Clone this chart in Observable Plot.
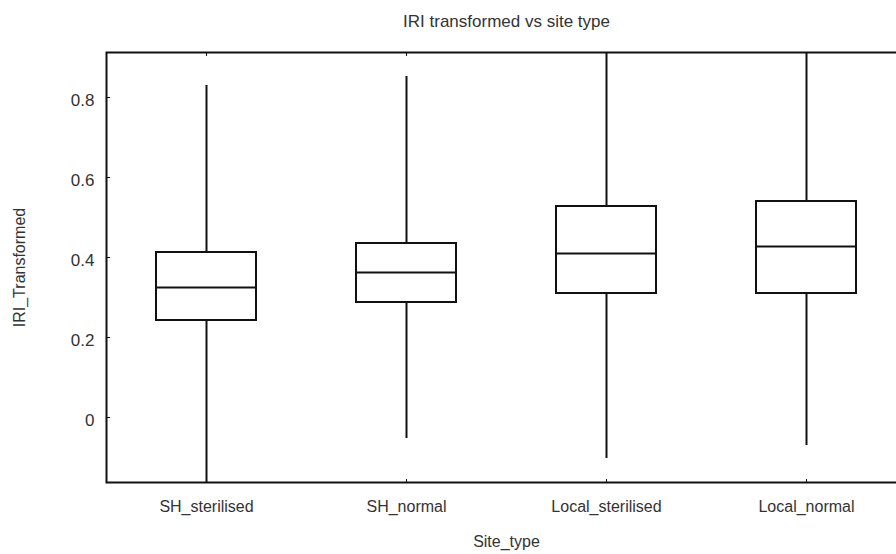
<!DOCTYPE html>
<html>
<head>
<meta charset="utf-8">
<script src="https://cdn.jsdelivr.net/npm/d3@7"></script>
<script src="https://cdn.jsdelivr.net/npm/@observablehq/plot@0.6"></script>
<style>
  html, body { margin: 0; padding: 0; background: #fff; overflow: hidden; }
  #chart { width: 896px; height: 554px; overflow: hidden; }
  #chart svg { max-width: none !important; font-family: "Liberation Sans", Arial, sans-serif; }
</style>
</head>
<body>
<div id="chart"></div>
<script>
const categories = ["SH_sterilised", "SH_normal", "Local_sterilised", "Local_normal"];
const whiskerLow  = [-0.20, -0.0525, -0.1025, -0.07];
const q1          = [0.2425, 0.2875, 0.31, 0.31];
const medians     = [0.325, 0.3625, 0.41, 0.4275];
const q3          = [0.4125, 0.435, 0.5275, 0.54];
const whiskerHigh = [0.83, 0.8525, 1.0, 1.0];
const yTicks = [0, 0.2, 0.4, 0.6, 0.8];
const yTickLabels = ["0", "0.2", "0.4", "0.6", "0.8"];

const rows = categories.map((c, i) => ({
  site: c, lo: whiskerLow[i], q1: q1[i], med: medians[i], q3: q3[i], hi: whiskerHigh[i]
}));

const textColor = "#333";

const chart = Plot.plot({
  width: 920,
  height: 554,
  marginLeft: 106,
  marginRight: 14,
  marginTop: 52,
  marginBottom: 72,
  style: { fontSize: "16px", color: textColor, background: "#fff", maxWidth: "none" },
  x: { domain: categories, paddingInner: 0.5, paddingOuter: 0.25, label: null },
  y: { domain: [-0.1625, 0.9125], label: null },
  marks: [
    Plot.ruleX(rows, { x: "site", y1: "lo", y2: "q1", stroke: "#111", strokeWidth: 2, clip: true }),
    Plot.ruleX(rows, { x: "site", y1: "q3", y2: "hi", stroke: "#111", strokeWidth: 2, clip: true }),
    Plot.barY(rows, { x: "site", y1: "q1", y2: "q3", fill: "white", stroke: "#111", strokeWidth: 2 }),
    Plot.tickY(rows, { x: "site", y: "med", stroke: "#111", strokeWidth: 2 }),
    Plot.axisY({ ticks: yTicks, tickFormat: (d) => yTickLabels[yTicks.indexOf(d)], tickSize: 0, tickPadding: 12, dy: 3, fontSize: 17, label: null }),
    Plot.axisY({ ticks: yTicks, tickSize: -4, text: null, label: null, stroke: "#111" }),
    Plot.axisX({ anchor: "bottom", tickSize: 0, tickPadding: 18, fontSize: 16, label: null }),
    Plot.axisX({ anchor: "bottom", tickSize: -3, text: null, label: null, stroke: "#111" }),
    Plot.axisX({ anchor: "top", tickSize: -3, text: null, label: null, stroke: "#111" }),
    Plot.frame({ stroke: "#111", strokeWidth: 2 }),
    Plot.text(["IRI transformed vs site type"], { frameAnchor: "top", dy: -38, fontSize: 17, fill: textColor }),
    Plot.text(["Site_type"], { frameAnchor: "bottom", dy: 64, fontSize: 16, fill: textColor }),
    Plot.text(["IRI_Transformed"], { frameAnchor: "left", dx: -87, rotate: -90, textAnchor: "middle", fontSize: 16, fill: textColor })
  ]
});
document.getElementById("chart").appendChild(chart);
</script>
</body>
</html>
